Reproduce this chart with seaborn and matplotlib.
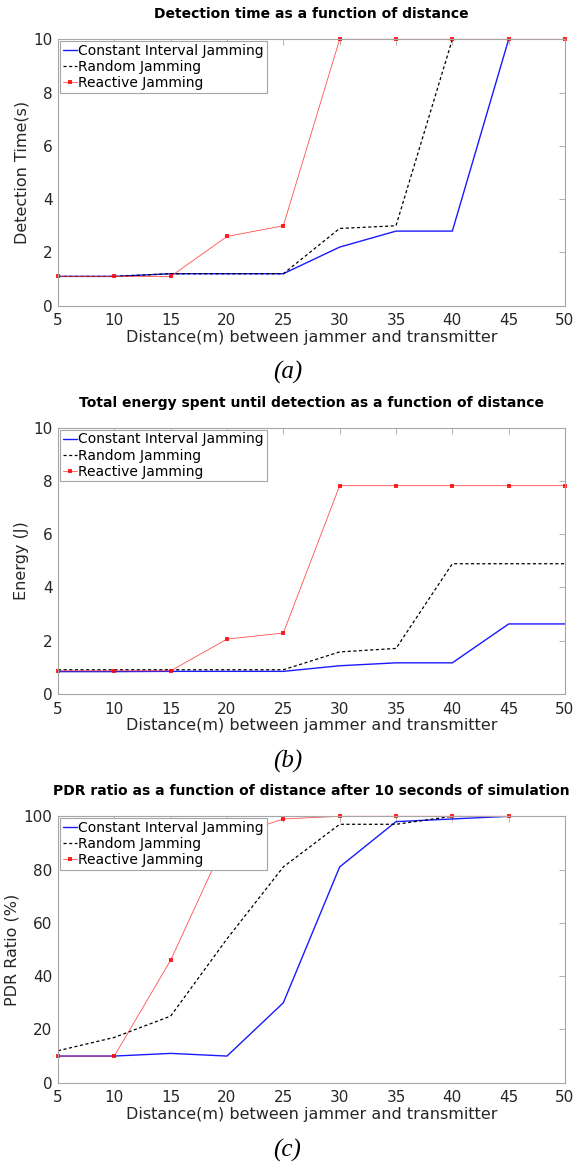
import matplotlib
matplotlib.use("Agg")
import matplotlib.pyplot as plt
import seaborn as sns
import pandas as pd
import numpy as np

# ---------------- data ----------------
distance = [5, 10, 15, 20, 25, 30, 35, 40, 45, 50]
series_names = ["Constant Interval Jamming", "Random Jamming", "Reactive Jamming"]

# (a) detection time (s)
time_constant = [1.1, 1.1, 1.2, 1.2, 1.2, 2.2, 2.8, 2.8, 10, 10]
time_random = [1.1, 1.1, 1.2, 1.2, 1.2, 2.9, 3.0, 10, 10, 10]
time_reactive = [1.1, 1.1, 1.1, 2.6, 3.0, 10, 10, 10, 10, 10]

# (b) energy (J)
energy_constant = [0.84, 0.84, 0.85, 0.85, 0.85, 1.06, 1.17, 1.17, 2.63, 2.63]
energy_random = [0.91, 0.91, 0.91, 0.91, 0.91, 1.58, 1.71, 4.89, 4.89, 4.89]
energy_reactive = [0.87, 0.87, 0.87, 2.06, 2.29, 7.82, 7.82, 7.82, 7.82, 7.82]

# (c) PDR ratio (%) -- data up to 45 m
pdr_distance = [5, 10, 15, 20, 25, 30, 35, 40, 45]
pdr_constant = [10, 10, 11, 10, 30, 81, 98, 99, 100]
pdr_random = [12, 17, 25, 54, 81, 97, 97, 100, 100]
pdr_reactive = [10, 10, 46, 92, 99, 100, 100, 100, 100]

titles = ["Detection time as a function of distance",
          "Total energy spent until detection as a function of distance",
          "PDR ratio as a function of distance after 10 seconds of simulation"]
ylabels = ["Detection Time(s)", "Energy (J)", "PDR Ratio (%)"]
xlabel = "Distance(m) between jammer and transmitter"
captions = ["(a)", "(b)", "(c)"]
xticks = [5, 10, 15, 20, 25, 30, 35, 40, 45, 50]
yticks_list = [[0, 2, 4, 6, 8, 10], [0, 2, 4, 6, 8, 10], [0, 20, 40, 60, 80, 100]]
ylims = [(0, 10), (0, 10), (0, 100)]

# ---------------- style ----------------
sns.set_theme(style="white")
plt.rcParams["font.family"] = ["DejaVu Sans"]

fig = plt.figure(figsize=(5.75, 11.64), dpi=100)
W, H = 575.0, 1164.0
left_px, right_px = 58, 565
panels_px = [(39.3, 305.7), (427.6, 694.0), (816.3, 1082.7)]
caption_px = [372, 761, 1150]

styles = {
    "Constant Interval Jamming": dict(color="#1a1aff", linestyle="-", linewidth=1.0, marker=None),
    "Random Jamming": dict(color="black", linestyle=(0, (2.5, 2.0)), linewidth=0.9, marker=None),
    "Reactive Jamming": dict(color="#ff3030", linestyle="-", linewidth=0.6, marker="s",
                             markersize=2.6, alpha=0.85),
}

datasets = [
    (distance, [time_constant, time_random, time_reactive]),
    (distance, [energy_constant, energy_random, energy_reactive]),
    (pdr_distance, [pdr_constant, pdr_random, pdr_reactive]),
]

axis_gray = "#a6a6a6"
text_dark = "#262626"

for i, ((top, bot), (xs, ys)) in enumerate(zip(panels_px, datasets)):
    ax = fig.add_axes([left_px / W, 1 - bot / H, (right_px - left_px) / W, (bot - top) / H])
    for name, yv in zip(series_names, ys):
        df = pd.DataFrame({"Distance": xs, "Value": yv})
        st = styles[name]
        kw = dict(color=st["color"], linestyle=st["linestyle"], linewidth=st["linewidth"])
        if st["marker"]:
            kw.update(marker=st["marker"], markersize=st["markersize"],
                      markeredgewidth=0, markerfacecolor="#ff0000", alpha=st["alpha"],
                      clip_on=False)
        sns.lineplot(data=df, x="Distance", y="Value", ax=ax, label=name, **kw)
    ax.set_xlim(5, 50)
    ax.set_ylim(*ylims[i])
    ax.set_xticks(xticks)
    ax.set_yticks(yticks_list[i])
    ax.tick_params(direction="in", top=True, right=True, length=4, width=0.6,
                   color=axis_gray, labelsize=11, labelcolor=text_dark)
    ax.tick_params(axis="x", pad=5.5)
    ax.tick_params(axis="y", pad=4)
    for sp in ax.spines.values():
        sp.set_color(axis_gray)
        sp.set_linewidth(0.8)
    ax.set_xlabel(xlabel, fontsize=11.5, color=text_dark, labelpad=1)
    ax.set_ylabel(ylabels[i], fontsize=11.5, color=text_dark, labelpad=3)
    ax.set_title(titles[i], fontsize=10, fontweight="bold", color="black", pad=15)
    leg = ax.legend(loc="upper left", fontsize=10, frameon=True, fancybox=False,
                    framealpha=1.0, handlelength=1.0, handletextpad=0.1, borderpad=0.2,
                    labelspacing=0.15, borderaxespad=0.15)
    leg.get_frame().set_edgecolor(axis_gray)
    leg.get_frame().set_linewidth(0.8)
    leg.set_zorder(10)
    for t in leg.get_texts():
        t.set_color("black")
    ax.set_facecolor("white")
    fig.text(287.5 / W, 1 - caption_px[i] / H, captions[i], fontsize=18,
             family=["Liberation Serif"], style="italic", ha="center", va="center",
             color="black")

fig.savefig("out.png", dpi=100, facecolor="white")
